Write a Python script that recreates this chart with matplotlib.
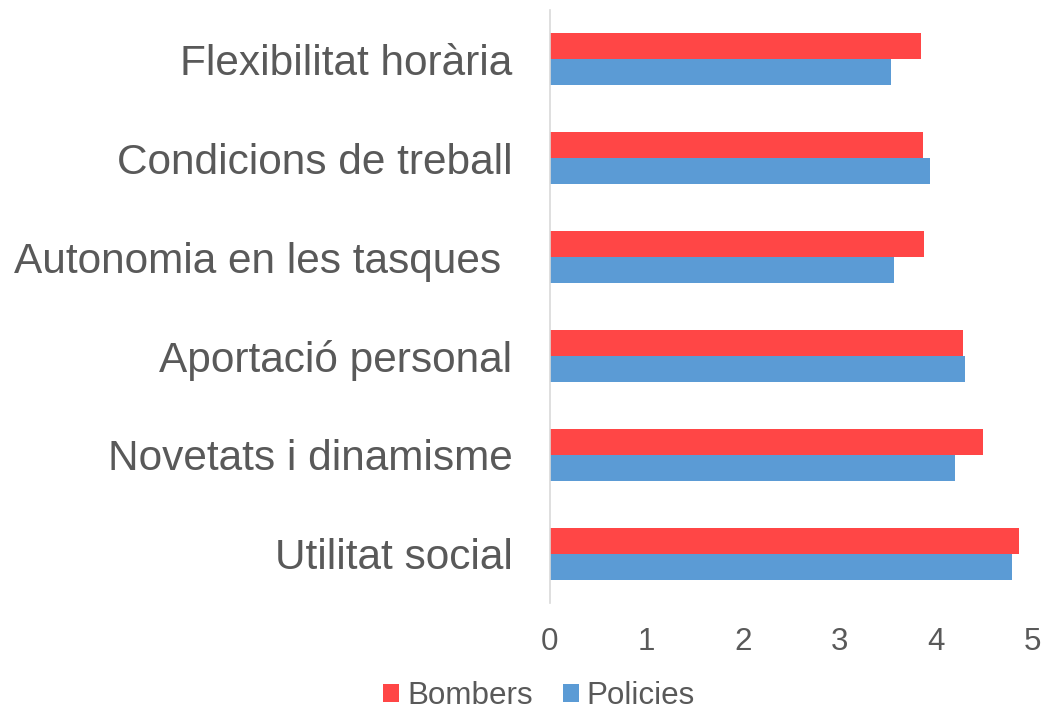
import numpy as np
import matplotlib
matplotlib.use("Agg")
import matplotlib.pyplot as plt

# categories listed top to bottom as in the chart
categories = ["Flexibilitat horària", "Condicions de treball", "Autonomia en les tasques ",
              "Aportació personal", "Novetats i dinamisme", "Utilitat social"]
bombers = [3.85, 3.87, 3.88, 4.28, 4.49, 4.87]
policies = [3.54, 3.94, 3.57, 4.30, 4.20, 4.79]

plt.rcParams['font.family'] = ['Liberation Sans', 'DejaVu Sans']
text_color = '#595959'

fig = plt.figure(figsize=(10.45, 7.11), dpi=100)
ax = fig.add_axes([550 / 1045, 1 - 603 / 711, (1032 - 550) / 1045, (603 - 10) / 711])

y = np.arange(len(categories))
h = 0.263
ax.barh(y - h / 2, bombers, height=h, color='#ff4646', label='Bombers')
ax.barh(y + h / 2, policies, height=h, color='#5b9bd5', label='Policies')

ax.set_xlim(0, 5)
ax.set_ylim(len(categories) - 0.5, -0.5)
ax.set_yticks(y)
ax.set_yticklabels(categories, fontsize=30.5, color=text_color)
ax.set_xticks(range(6))
ax.tick_params(axis='y', length=0, pad=27)
ax.tick_params(axis='x', length=0, pad=17, labelsize=22.6, labelcolor=text_color)

for s in ['top', 'right', 'bottom']:
    ax.spines[s].set_visible(False)
ax.spines['left'].set_color('#d9d9d9')
ax.spines['left'].set_linewidth(1.2)

fig.legend(loc='center', bbox_to_anchor=(539 / 1045, 1 - 696 / 711), ncol=2, frameon=False,
           fontsize=22.6, labelcolor=text_color, handlelength=0.52, handleheight=0.52,
           handletextpad=0.25, columnspacing=0.95)

fig.savefig("out.png", dpi=100)
